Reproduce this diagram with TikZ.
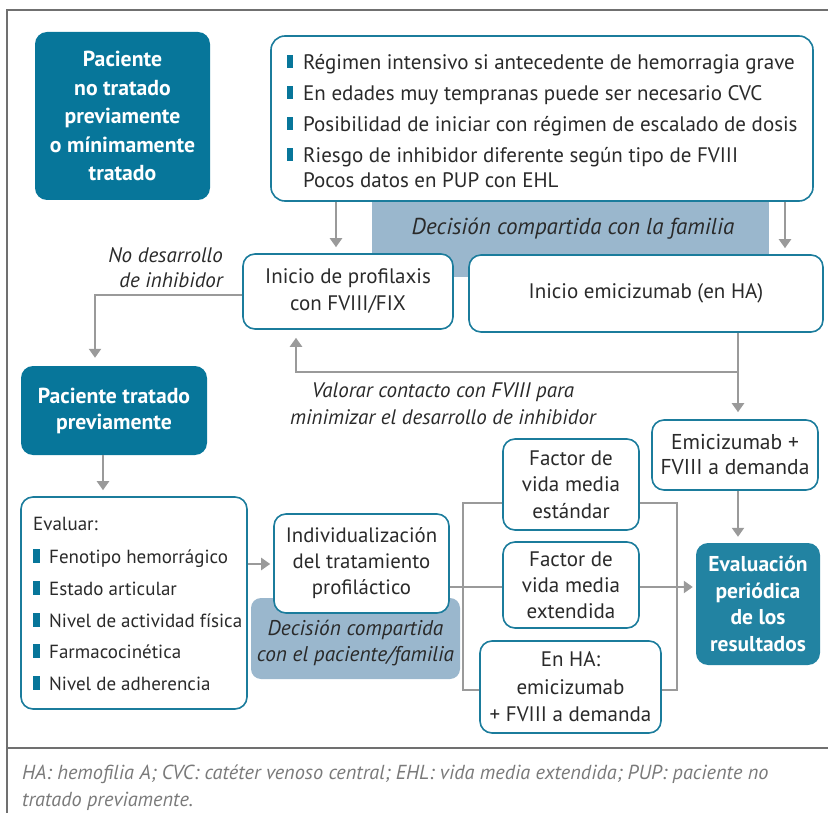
\documentclass[tikz,border=0pt]{standalone}
\usepackage{fontspec}
\setmainfont{PT Sans}
\usetikzlibrary{arrows.meta,backgrounds}
\definecolor{tealD}{HTML}{07769A}
\definecolor{tealL}{HTML}{2283A2}
\definecolor{tealB}{HTML}{1B7C9C}
\definecolor{bandc}{HTML}{9AB7CD}
\definecolor{arr}{HTML}{9A9A9A}
\definecolor{txt}{HTML}{2A2A2A}
\definecolor{framec}{HTML}{707070}
\definecolor{footc}{HTML}{7A7A7A}
\newcommand\mainfs{\fontsize{21pt}{26pt}\selectfont}
\newcommand\footfs{\fontsize{20.3pt}{27pt}\selectfont}
\begin{document}
\begin{tikzpicture}[x=1pt,y=-1pt,
  box/.style={draw=tealB, line width=1.6pt, fill=white, rounded corners=12pt, align=center, text=txt, font=\mainfs, inner sep=0pt},
  dark/.style={fill=tealD, rounded corners=12pt, text=white, align=center, inner sep=0pt, font=\bfseries\fontsize{21.7pt}{28.5pt}\selectfont},
  item/.style={anchor=base west, inner sep=0pt, text=txt, font=\mainfs},
  eitem/.style={anchor=base west, inner sep=0pt, text=txt, font=\fontsize{19pt}{24pt}\selectfont},
  lbl/.style={text=txt, font=\itshape\mainfs, inner sep=0pt},
  conn/.style={draw=arr, line width=2.6pt, -{Triangle[width=12pt,length=9pt]}},
  brk/.style={draw=arr, line width=2.6pt},
  bul/.style={fill=tealD},
  framel/.style={draw=framec, line width=1.4pt}]
\useasboundingbox (0,0) rectangle (828,813);
% frame
\draw[framel] (828,10) -- (7,10) -- (7,813);
\draw[framel] (7,748) -- (828,748);
% coordinates
\coordinate (xa) at (336,0);
\coordinate (xb) at (785,0);
\coordinate (xc) at (95,295);
\coordinate (jn) at (738,372);
\coordinate (xd) at (296,372);
\coordinate (xe) at (103,0);
\coordinate (ye) at (0,564);
\coordinate (ym) at (0,587);
\coordinate (xf) at (738,0);
\coordinate (brTL) at (463,503);
\coordinate (brBR) at (677,690);
% band
\node[fill=bandc, minimum width=397pt, minimum height=96pt, inner sep=0pt] (band) at (570.5,229) {};
\node[lbl, font=\itshape\fontsize{23pt}{26pt}\selectfont] (bandtxt) at (573,229) {Decisión compartida con la familia};
% top box
\node[box, rounded corners=14pt, minimum width=542pt, minimum height=165pt] (top) at (542,118.5) {};
\node[item] (t1) at (303,70) {Régimen intensivo si antecedente de hemorragia grave};
\node[item] (t2) at (303,101) {En edades muy tempranas puede ser necesario CVC};
\node[item] (t3) at (303,132) {Posibilidad de iniciar con régimen de escalado de dosis};
\node[item] (t4) at (303,163) {Riesgo de inhibidor diferente según tipo de FVIII};
\node[item] (t5) at (303,188) {Pocos datos en PUP con EHL};
\foreach \b in {70,101,132,163} \fill[bul] (287,\b-14.5) rectangle (293,\b-1.5);
% left dark boxes
\node[dark, minimum width=175pt, minimum height=168pt] (pnt) at (122.5,116) {Paciente\\no tratado\\previamente\\o mínimamente\\tratado};
\node[dark, minimum width=186pt, minimum height=89pt, font=\bfseries\fontsize{21.7pt}{26pt}\selectfont] (ptp) at (114,410.5) {Paciente tratado\\previamente};
% row 2
\node[box, minimum width=210pt, minimum height=75pt, font=\fontsize{21pt}{27pt}\selectfont] (prof) at (348,291.5) {Inicio de profilaxis\\con FVIII/FIX};
\node[box, minimum width=354pt, minimum height=77pt] (emi) at (646,293.5) {Inicio emicizumab (en HA)};
\node[box, minimum width=166pt, minimum height=70pt, font=\fontsize{21.5pt}{25pt}\selectfont] (emif) at (735,455) {Emicizumab +\\FVIII a demanda};
% labels
\node[lbl, align=right, anchor=east, font=\itshape\fontsize{21pt}{25pt}\selectfont] (nodes) at (223,267.5) {No desarrollo\\de inhibidor};
\node[lbl, align=center, font=\itshape\fontsize{21pt}{27pt}\selectfont] (valorar) at (443,403.5) {Valorar contacto con FVIII para\\minimizar el desarrollo de inhibidor};
% evaluar
\node[box, minimum width=226pt, minimum height=212pt] (eva) at (134,603) {};
\node[eitem] (e0) at (33,530) {Evaluar:};
\node[eitem] (e1) at (49,563) {Fenotipo hemorrágico};
\node[eitem] (e2) at (49,595) {Estado articular};
\node[eitem] (e3) at (49,627) {Nivel de actividad física};
\node[eitem] (e4) at (49,658) {Farmacocinética};
\node[eitem] (e5) at (49,690) {Nivel de adherencia};
\foreach \b in {563,595,627,658,690} \fill[bul] (33,\b-14.5) rectangle (40,\b-0.5);
% shared decision patient
\node[fill=bandc, rounded corners=10pt, minimum width=209pt, minimum height=81pt, inner sep=0pt] (pfam) at (355.5,638.5) {};
\node[lbl, align=center, font=\itshape\fontsize{21.3pt}{26pt}\selectfont] (pfamtxt) at (355.5,643) {Decisión compartida\\con el paciente/familia};
\node[box, minimum width=175pt, minimum height=99pt, font=\fontsize{20.8pt}{26pt}\selectfont] (ind) at (361.5,563.5) {Individualización\\del tratamiento\\profiláctico};
% options
\node[box, minimum width=136pt, minimum height=91pt, font=\fontsize{21pt}{26.5pt}\selectfont] (std) at (571,484.5) {Factor de\\vida media\\estándar};
\node[box, minimum width=136pt, minimum height=86pt, font=\fontsize{21pt}{26pt}\selectfont] (ext) at (571,585) {Factor de\\vida media\\extendida};
\node[box, minimum width=181pt, minimum height=92pt, font=\fontsize{21pt}{27.5pt}\selectfont] (enha) at (570.5,687) {En HA:\\emicizumab\\+ FVIII a demanda};
\node[dark, fill=tealL, minimum width=124pt, minimum height=122pt, font=\bfseries\fontsize{21.5pt}{26.5pt}\selectfont] (evr) at (758,604) {Evaluación\\periódica\\de los\\resultados};
% connectors
\draw[conn, shorten >=6pt] (top.south -| xa) -- (prof.north -| xa);
\draw[conn, shorten >=6pt] (top.south -| xb) -- (emi.north -| xb);
\draw[conn, shorten >=8pt] (prof.west |- xc) -- (xc) -- (ptp.north -| xc);
\draw[conn, shorten >=7pt] (emi.south -| xf) -- (emif.north -| xf);
\draw[conn, shorten >=8pt] (jn) -- (xd) -- (prof.south -| xd);
\draw[conn, shorten >=6pt] (ptp.south -| xe) -- (eva.north -| xe);
\draw[conn, shorten >=3pt] (eva.east |- ye) -- (ind.west |- ye);
\draw[conn, shorten >=6pt] (emif.south -| xf) -- (evr.north -| xf);
\begin{scope}[on background layer]
\draw[brk] (brTL) rectangle (brBR);
\draw[conn, shorten >=3pt] (ind.east |- ym) -- (evr.west |- ym);
\end{scope}
% footer
\node[anchor=base west, inner sep=0pt, text=footc, font=\itshape\footfs] (f1) at (22,779) {HA: hemofilia A; CVC: catéter venoso central; EHL: vida media extendida; PUP: paciente no};
\node[anchor=base west, inner sep=0pt, text=footc, font=\itshape\footfs] (f2) at (22,806) {tratado previamente.};
\end{tikzpicture}
\end{document}
